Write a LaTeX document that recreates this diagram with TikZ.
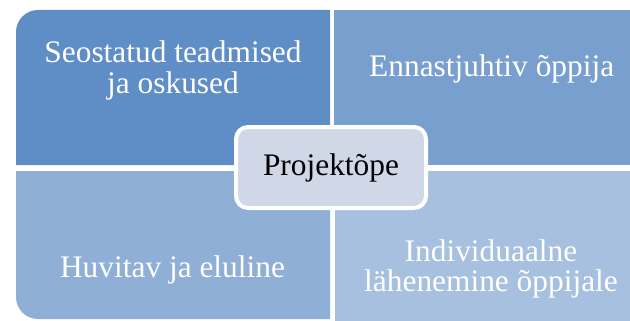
\documentclass[tikz,border=0pt]{standalone}
\usepackage{fontspec}
\setmainfont{Liberation Serif}
\definecolor{qtl}{HTML}{5F8DC6}
\definecolor{qtr}{HTML}{789FCE}
\definecolor{qbl}{HTML}{8FAFD6}
\definecolor{qbr}{HTML}{A7C0DF}
\definecolor{cfill}{HTML}{D0D8E8}
\tikzset{
  qtext/.style={text=white, align=center, inner sep=0pt, font=\fontsize{31.5}{31}\selectfont},
  hub/.style={draw=white, line width=4bp, fill=cfill, rounded corners=12bp, minimum width=190bp, minimum height=81bp, inner sep=0pt, font=\fontsize{31.5}{31}\selectfont}
}
\begin{document}
\begin{tikzpicture}[x=1bp,y=1bp]
\useasboundingbox (0,0) rectangle (630,320);
\clip (0,0) rectangle (630,320);
\fill[white] (0,0) rectangle (630,320);
% quadrants
\fill[qtl] (330,155) -- (16,155) -- (16,288) arc[start angle=180,end angle=90,radius=22] -- (330,310) -- cycle;
\fill[qtr] (334,155) rectangle (650,310);
\fill[qbl] (330,149) -- (16,149) -- (16,23) arc[start angle=180,end angle=270,radius=22] -- (330,1) -- cycle;
\fill[qbr] (335,149) rectangle (650,-10);
% texts
\node[qtext] (tl) at (173,249.5) {Seostatud teadmised\\ja oskused};
\node[qtext, anchor=base] (tr) at (491.7,244) {Ennastjuhtiv õppija};
\node[qtext, anchor=base] (bl) at (172.5,42.3) {Huvitav ja eluline};
\node[qtext] (br) at (491,51) {Individuaalne\\lähenemine õppijale};
\node[hub] (hub) at (331,152.5) {Projektõpe};
\end{tikzpicture}
\end{document}
